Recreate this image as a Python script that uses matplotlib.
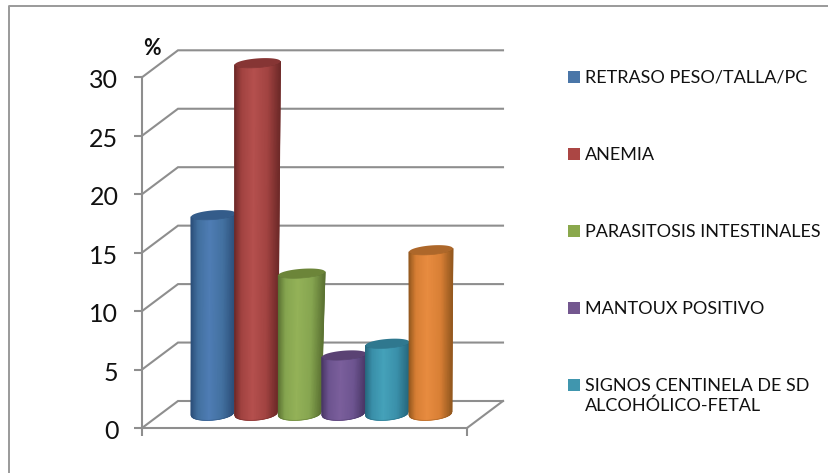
import numpy as np
import matplotlib
matplotlib.use("Agg")
import matplotlib.pyplot as plt
from matplotlib.colors import LinearSegmentedColormap
from matplotlib.patches import Polygon, Rectangle
from matplotlib.transforms import ScaledTranslation

labels = ["RETRASO PESO/TALLA/PC", "ANEMIA", "PARASITOSIS INTESTINALES",
          "MANTOUX POSITIVO", "SIGNOS CENTINELA DE SD\nALCOHÓLICO-FETAL", ""]
values = [17, 30, 12, 5, 6, 14]
y_ticks = [0, 5, 10, 15, 20, 25, 30]

# edge, mid, highlight and cap shades for each cylinder
shades = [("#2c4f7a", "#42709f", "#4f7db5", "#345c8a"),
          ("#6f2a29", "#a24341", "#b5504e", "#863534"),
          ("#5c7333", "#86a550", "#94b258", "#6c8539"),
          ("#4a3766", "#6d5490", "#7b5f9c", "#5a4273"),
          ("#27697f", "#3a90aa", "#45a2ba", "#2f788f"),
          ("#95591f", "#d87f35", "#e88c40", "#ad672a")]
legend_colors = ["#4a76a8", "#ab4644", "#8aa84c", "#73578f", "#4096ae"]

W, H = 829, 473
GRAY = "#8e8e8e"

# plot box in pixels, front wall corner to corner
LEFT, RIGHT, Y0, Y30 = 142, 467, 428, 77.3
DEPTH_X, DEPTH_Y = 36, 27
PX_Y = (Y0 - Y30) / 30

plt.rcParams["font.family"] = ["Lato", "DejaVu Sans"]
fig = plt.figure(figsize=(W / 100, H / 100), dpi=100)
ax = fig.add_axes([LEFT / W, 1 - Y0 / H, (RIGHT - LEFT) / W, (Y0 - Y30) / H])
ax.set_xlim(0, RIGHT - LEFT)
ax.set_ylim(0, 30)
ax.patch.set_visible(False)

# outer frame, only top and left are visible
fig.add_artist(plt.Line2D([9.5 / W, 9.5 / W, 1], [0, 1 - 6.5 / H, 1 - 6.5 / H],
                          color="#9a9a9a", lw=1.4))

# axes lines and ticks
for s in ["top", "right"]:
    ax.spines[s].set_visible(False)
for s in ["left", "bottom"]:
    ax.spines[s].set_color(GRAY)
    ax.spines[s].set_linewidth(1.5)
ax.set_yticks(y_ticks)
ax.set_xticks([0, RIGHT - LEFT])
ax.set_xticklabels([])
ax.tick_params(axis="y", length=6, width=1.5, color=GRAY, labelsize=18, pad=11,
               labelcolor="#111111")
ax.tick_params(axis="x", length=6, width=1.5, color=GRAY)
# nudge the numbers down a little
for lab in ax.get_yticklabels():
    lab.set_transform(lab.get_transform() + ScaledTranslation(0, -1.5 / 100, fig.dpi_scale_trans))

# back wall lines and the slanted joins
dy = DEPTH_Y / PX_Y
width = RIGHT - LEFT
for v in y_ticks:
    ax.plot([0, DEPTH_X, width + DEPTH_X], [v, v + dy, v + dy],
            color=GRAY, lw=1.5, clip_on=False, zorder=1, solid_joinstyle="miter")
ax.plot([DEPTH_X + width, width], [dy, 0], color=GRAY, lw=1.5, clip_on=False, zorder=1)

# cylinders
SLOT = 43.6
BASE = 14.3 / PX_Y
N = 60
tapers = [2, 3, 4, 2, 1, 1]
for i, (v, sh) in enumerate(zip(values, shades)):
    x0 = 49.2 + SLOT * i
    w = 42.6
    cap_h = 4.6 / PX_Y
    foot_h = 6.4 / PX_Y
    tilt = 1.7 / PX_Y

    u = np.linspace(0, 1, N + 1)
    arc = np.sqrt(np.clip(1 - (2 * u - 1) ** 2, 0, 1))
    slope = tilt * (2 * u - 1)
    xb = x0 + w * u
    xt = x0 + (w + tapers[i]) * u
    X = np.vstack([xb, xt])
    Y = np.vstack([BASE - foot_h * arc + slope, BASE + v - cap_h * arc + slope])

    cmap = LinearSegmentedColormap.from_list(
        "cyl", [(0, sh[0]), (0.16, sh[1]), (0.42, sh[2]), (0.74, sh[1]), (1, sh[0])])
    ax.pcolormesh(X, Y, np.vstack([u, u]), cmap=cmap, vmin=0, vmax=1,
                  shading="gouraud", clip_on=False, zorder=3 + i)
    # thin outline softens the mesh edge
    ax.plot(np.r_[xb, xt[::-1], xb[0]],
            np.r_[Y[0], Y[1][::-1], Y[0][0]],
            color=sh[0], lw=0.5, alpha=0.6, clip_on=False, zorder=3 + i)

    # elliptical top
    t = np.linspace(0, 2 * np.pi, 80)
    cx = x0 + (w + tapers[i]) / 2
    hw = (w + tapers[i]) / 2
    cap = np.column_stack([cx + hw * np.cos(t),
                           BASE + v + cap_h * np.sin(t) + tilt * np.cos(t)])
    ax.add_patch(Polygon(cap, closed=True, fc=sh[3], ec="none", clip_on=False,
                         zorder=3 + i))

ax.text(10, 30 + 29 / PX_Y, "%", fontsize=15.5, fontweight="bold", ha="center",
        va="center", clip_on=False, color="#111111")

# legend drawn row by row
rows_y = [77, 154, 231, 308, 385]
for lab, col, y in zip(labels[:5], legend_colors, rows_y):
    fig.add_artist(Rectangle((568 / W, 1 - (y + 6) / H), 12 / W, 12 / H,
                             transform=fig.transFigure, fc=col, ec="none"))
    fig.text(585 / W, 1 - (y - 7.5) / H, lab, fontsize=13, color="#111111",
             ha="left", va="top", linespacing=1.3)

fig.savefig("out.png", dpi=100)
